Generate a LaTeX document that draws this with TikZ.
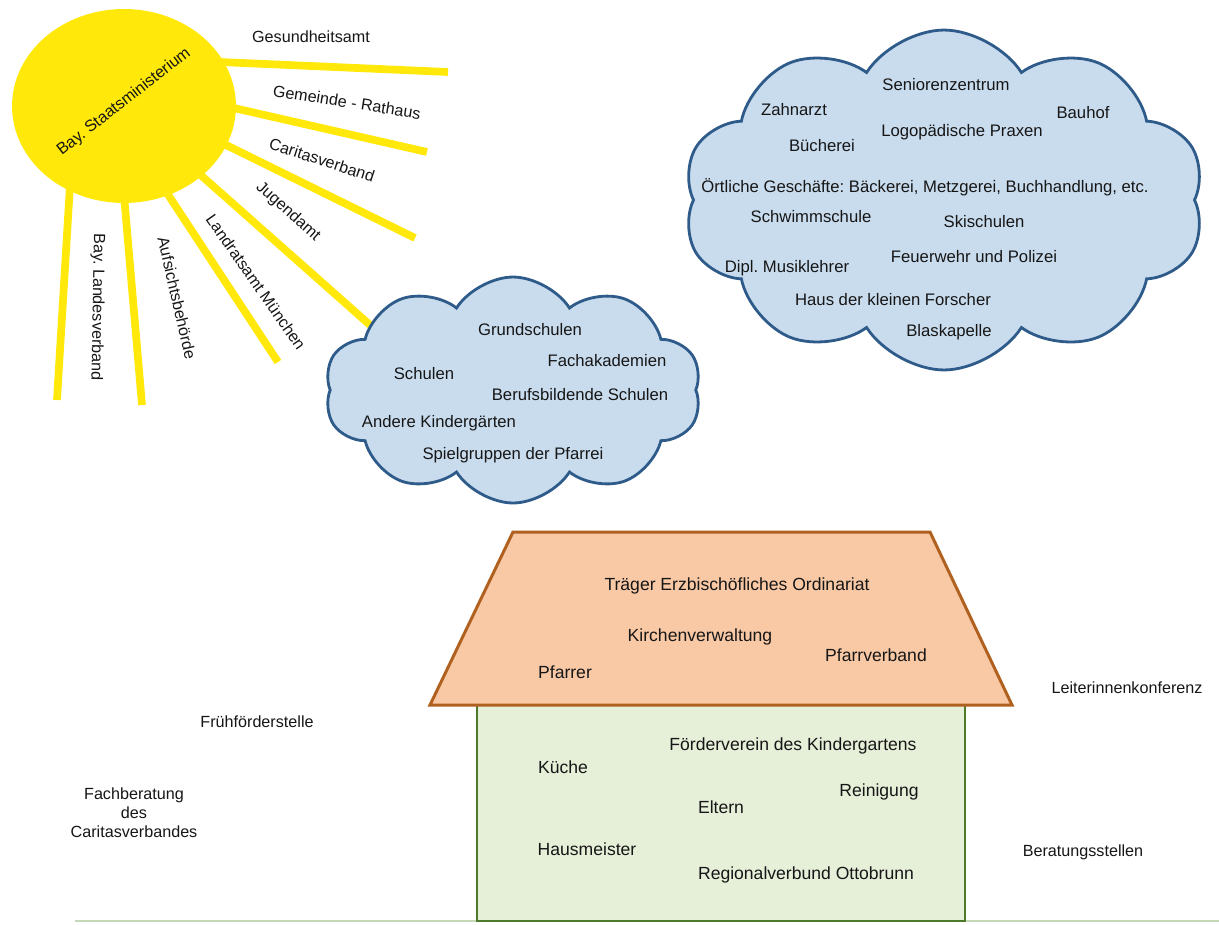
\documentclass[tikz,border=0pt]{standalone}
\usepackage{fontspec}
\setmainfont{Liberation Sans}
\usepackage{xcolor}
\usetikzlibrary{shapes.geometric, shapes.symbols, positioning}
\definecolor{SunYellow}{HTML}{FFE80A}
\definecolor{CloudBlue}{HTML}{C9DCEE}
\definecolor{CloudEdge}{HTML}{2F5B8A}
\definecolor{RoofPeach}{HTML}{F9C9A6}
\definecolor{RoofEdge}{HTML}{B0601F}
\definecolor{WallGreen}{HTML}{E6EFD8}
\definecolor{WallEdge}{HTML}{4E7A2C}
\definecolor{GroundGreen}{HTML}{C5D9B9}
\definecolor{InkGray}{HTML}{161616}
\frenchspacing

\begin{document}
\begin{tikzpicture}[x=0.02cm, y=-0.02cm,
    ray/.style={draw=SunYellow, line width=4.4pt},
    raylabel/.style={font=\fontsize{9.2}{10.8}\selectfont, text=InkGray, inner sep=1pt},
    cloudlabel/.style={font=\fontsize{9.5}{11}\selectfont, text=InkGray, inner sep=1pt},
    houselabel/.style={font=\fontsize{10}{12}\selectfont, text=InkGray, inner sep=1pt},
    puffy/.style={cloud, cloud puffs=10, cloud puff arc=115, cloud ignores aspect,
        draw=CloudEdge, fill=CloudBlue, line width=1.6pt, inner sep=0pt}]
    \useasboundingbox (0,0) rectangle (1219,924);

    % ground and house
    \draw[GroundGreen, line width=1.6pt] (75,921) -- (1219,921);
    \draw[fill=WallGreen, draw=WallEdge, line width=1.4pt] (477,705) rectangle (965,921);
    \draw[fill=RoofPeach, draw=RoofEdge, line width=1.7pt, line join=miter]
        (513,532) -- (930,532) -- (1012,705) -- (430,705) -- cycle;

    % sun with rays
    \foreach \n/\a/\b in {1/{220,62}/{448,72}, 2/{225,106}/{427,152},
                          3/{220,142}/{415,238}, 4/{195,170}/{370,325},
                          5/{165,190}/{278,362}, 6/{124,195}/{142,405},
                          7/{70,185}/{57,400}} {
        \coordinate (ray\n a) at (\a);
        \coordinate (ray\n b) at (\b);
        \draw[ray] (ray\n a) -- (ray\n b);
    }
    \node[ellipse, fill=SunYellow, minimum width=4.48cm, minimum height=3.88cm,
          inner sep=0pt] (sun) at (124,106) {};
    \node[raylabel, rotate=38] (ministry) at (124,102) {Bay. Staatsministerium};

    \node[raylabel] (health) at (311,37) {Gesundheitsamt};
    \node[raylabel, rotate=-9] (townhall) at (347,102) {Gemeinde - Rathaus};
    \node[raylabel, rotate=-18] (caritas) at (322,160) {Caritasverband};
    \node[raylabel, rotate=-42] (youth) at (288,212) {Jugendamt};
    \node[raylabel, rotate=-55] (district) at (256,282) {Landratsamt München};
    \node[raylabel, rotate=-77] (supervision) at (177,298) {Aufsichtsbehörde};
    \node[raylabel, rotate=-91] (stateassoc) at (97,307) {Bay. Landesverband};

    % clouds
    \node[puffy, minimum width=7.54cm, minimum height=4.52cm] (schoolcloud) at (513,390) {};
    \node[puffy, minimum width=10.44cm, minimum height=6.8cm] (towncloud) at (944,200) {};

    \node[cloudlabel] (primary) at (530,330) {Grundschulen};
    \node[cloudlabel] (academies) at (607,361) {Fachakademien};
    \node[cloudlabel] (schools) at (424,374) {Schulen};
    \node[cloudlabel] (vocational) at (580,395) {Berufsbildende Schulen};
    \node[cloudlabel] (kindergartens) at (439,423) {Andere Kindergärten};
    \node[cloudlabel] (playgroups) at (513,455) {Spielgruppen der Pfarrei};

    \node[cloudlabel] (seniors) at (946,85) {Seniorenzentrum};
    \node[cloudlabel] (dentist) at (794,110) {Zahnarzt};
    \node[cloudlabel] (depot) at (1083,113) {Bauhof};
    \node[cloudlabel] (speech) at (962,132) {Logopädische Praxen};
    \node[cloudlabel] (library) at (822,146) {Bücherei};
    \node[cloudlabel] (shops) at (925,187) {Örtliche Geschäfte: Bäckerei, Metzgerei, Buchhandlung, etc.};
    \node[cloudlabel] (swimming) at (811,217) {Schwimmschule};
    \node[cloudlabel] (skiing) at (984,222) {Skischulen};
    \node[cloudlabel] (firepolice) at (974,257) {Feuerwehr und Polizei};
    \node[cloudlabel] (music) at (787,268) {Dipl. Musiklehrer};
    \node[cloudlabel] (researchers) at (893,300) {Haus der kleinen Forscher};
    \node[cloudlabel] (band) at (949,332) {Blaskapelle};

    % house labels
    \node[houselabel] (sponsor) at (737,586) {Träger Erzbischöfliches Ordinariat};
    \node[houselabel] (churchadmin) at (700,637) {Kirchenverwaltung};
    \node[houselabel] (parishassoc) at (876,655) {Pfarrverband};
    \node[houselabel] (priest) at (565,672) {Pfarrer};
    \node[houselabel] (friends) at (793,746) {Förderverein des Kindergartens};
    \node[houselabel] (kitchen) at (563,767) {Küche};
    \node[houselabel] (cleaning) at (879,792) {Reinigung};
    \node[houselabel] (parents) at (721,807) {Eltern};
    \node[houselabel] (caretaker) at (587,849) {Hausmeister};
    \node[houselabel] (regional) at (806,875) {Regionalverbund Ottobrunn};

    % outside the house
    \node[raylabel] (earlyhelp) at (257,722) {Frühförderstelle};
    \node[raylabel, align=center] (advice) at (134,813) {Fachberatung\\des\\Caritasverbandes};
    \node[raylabel] (leaders) at (1127,688) {Leiterinnenkonferenz};
    \node[raylabel] (counselling) at (1083,852) {Beratungsstellen};
\end{tikzpicture}
\end{document}
